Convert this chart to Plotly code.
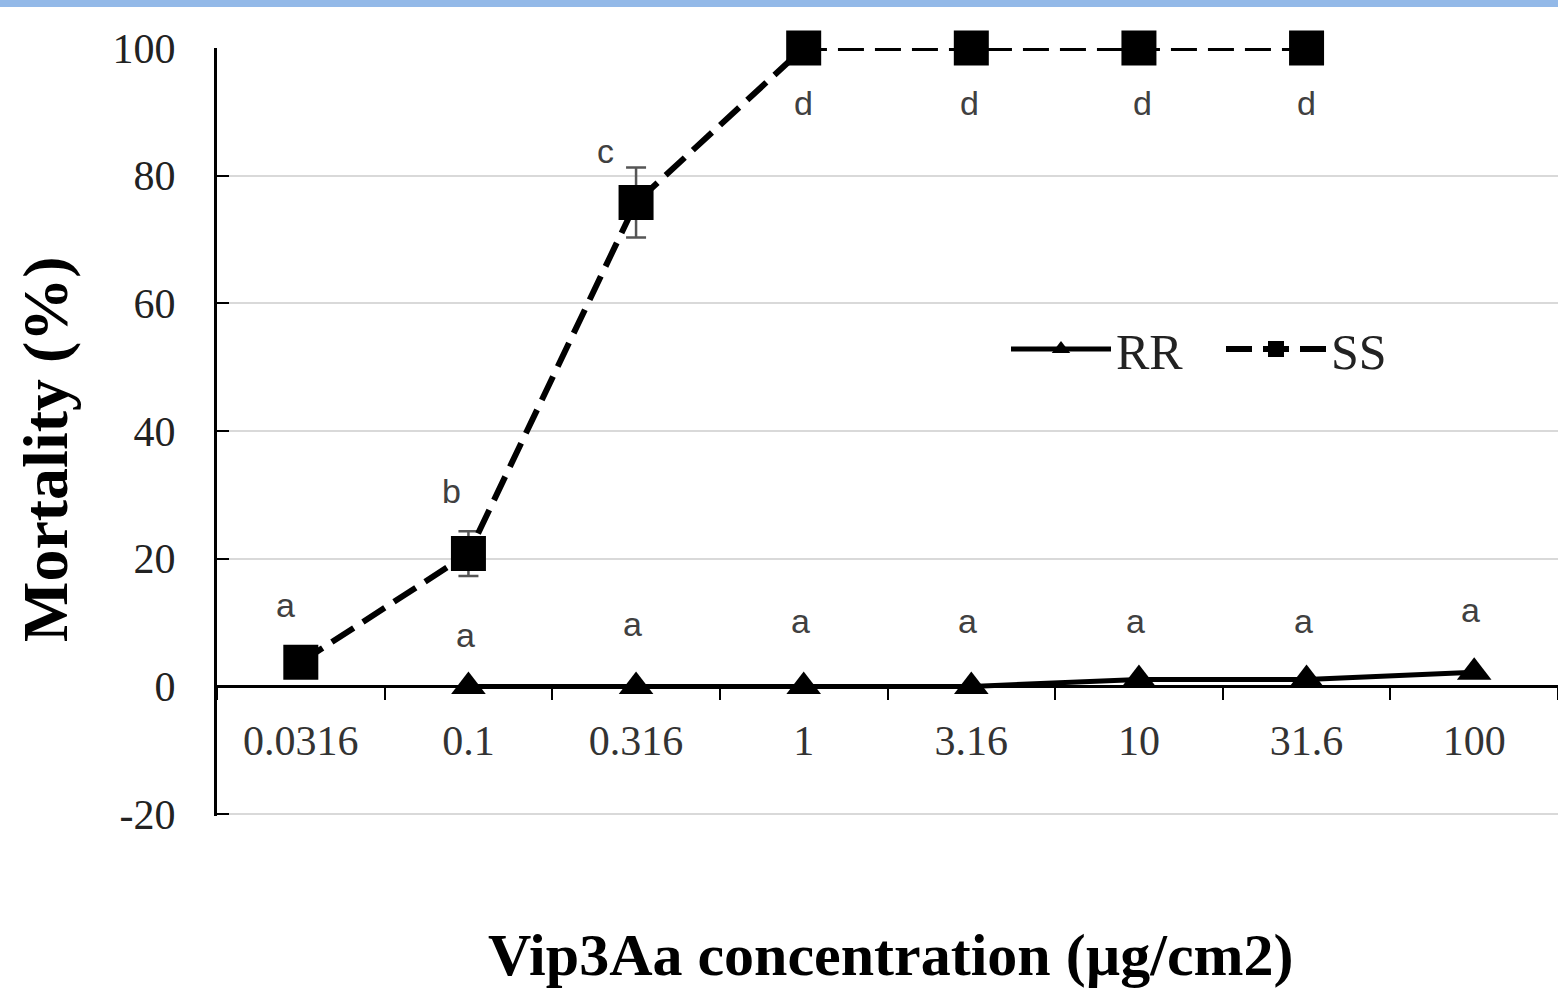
import plotly.graph_objects as go

concentrations = ["0.0316", "0.1", "0.316", "1", "3.16", "10", "31.6", "100"]
rr_mortality = [None, 0, 0, 0, 0, 1.1, 1.1, 2.2]
ss_mortality = [3.8, 20.8, 75.8, 100, 100, 100, 100, None]
ss_error = [0, 3.5, 5.5, 0, 0, 0, 0, 0]
rr_letters = ["", "a", "a", "a", "a", "a", "a", "a"]
rr_letter_y = [None, 8.0, 9.7, 10.3, 10.3, 10.3, 10.3, 11.9]
ss_letters = ["a", "b", "c", "d", "d", "d", "d", ""]
ss_letter_y = [12.7, 30.6, 83.8, 91.4, 91.4, 91.4, 91.4, None]
ss_letter_dx = [-0.09, -0.1, -0.18, 0, -0.01, 0.02, 0, 0]
y_tickvals = [-20, 0, 20, 40, 60, 80, 100]
y_ticktext = ["-20", "0", "20", "40", "60", "80", "100"]

W, H = 1558, 991
ML, MR, MT, MB = 217, 0, 48, 175
PW, PH = W - ML - MR, H - MT - MB

def px_x(p):
    return (p - ML) / PW

def px_y(p):
    return (H - MB - p) / PH

fig = go.Figure()
fig.add_trace(go.Scatter(
    x=concentrations, y=rr_mortality, name="RR", mode="lines+markers",
    line=dict(color="black", width=5),
    marker=dict(symbol="triangle-up", size=30, color="black"),
    cliponaxis=False,
))
fig.add_trace(go.Scatter(
    x=concentrations, y=ss_mortality, name="SS", mode="lines+markers",
    line=dict(color="black", width=6, dash="26px,11px"),
    marker=dict(symbol="square", size=35, color="black"),
    error_y=dict(type="data", array=ss_error, color="#555555", thickness=2.5, width=10),
    cliponaxis=False,
))

letter_font = dict(family="Liberation Sans, Arial, sans-serif", size=34, color="#404040")
for i, (t, yv) in enumerate(zip(rr_letters, rr_letter_y)):
    if t:
        fig.add_annotation(x=i - 0.02, y=yv, text=t, showarrow=False, font=letter_font,
                           xref="x", yref="y")
for i, (t, yv, dx) in enumerate(zip(ss_letters, ss_letter_y, ss_letter_dx)):
    if t:
        fig.add_annotation(x=i + dx, y=yv, text=t, showarrow=False, font=letter_font,
                           xref="x", yref="y")

serif = "Liberation Serif, Times New Roman, serif"
fig.add_annotation(x=px_x(45), y=px_y(449), xref="paper", yref="paper",
                   xanchor="center", yanchor="middle",
                   text="<b>Mortality (%)</b>", textangle=-90, showarrow=False,
                   font=dict(family=serif, size=64, color="black"))
fig.add_annotation(x=px_x(891), y=px_y(955), xref="paper", yref="paper",
                   xanchor="center", yanchor="middle",
                   text="<b>Vip3Aa concentration (µg/cm2)</b>", showarrow=False,
                   font=dict(family=serif, size=60, color="black"))

fig.add_shape(type="rect", xref="paper", yref="paper",
              x0=px_x(0), x1=px_x(W), y0=px_y(7), y1=px_y(-2),
              fillcolor="#93B9E8", line=dict(width=0), layer="above")

fig.update_layout(
    width=W, height=H,
    margin=dict(l=ML, r=MR, t=MT, b=MB, autoexpand=False),
    paper_bgcolor="white", plot_bgcolor="white",
    showlegend=True,
    legend=dict(orientation="h", x=px_x(1006), y=px_y(349), xanchor="left", yanchor="middle",
                font=dict(family=serif, size=50, color="#222222"),
                bgcolor="rgba(0,0,0,0)", itemwidth=100,
                entrywidth=100, entrywidthmode="pixels"),
    xaxis=dict(type="category", range=[-0.5, 7.5], anchor="free", position=20.3 / 120.3,
               showline=True, linecolor="black", linewidth=3,
               ticks="outside", tickson="boundaries", ticklen=12, tickwidth=2, tickcolor="black",
               showgrid=False, zeroline=False,
               tickfont=dict(family=serif, size=42, color="#333333"),
               ticklabelstandoff=16),
    yaxis=dict(range=[-20.3, 100], tickvals=y_tickvals, ticktext=y_ticktext,
               showline=True, linecolor="black", linewidth=3,
               ticks="inside", ticklen=12, tickwidth=2, tickcolor="black",
               showgrid=True, gridcolor="#d9d9d9", gridwidth=2, zeroline=False,
               tickfont=dict(family=serif, size=42, color="#222222"),
               ticklabelstandoff=30),
)

fig.write_html("out.html")
